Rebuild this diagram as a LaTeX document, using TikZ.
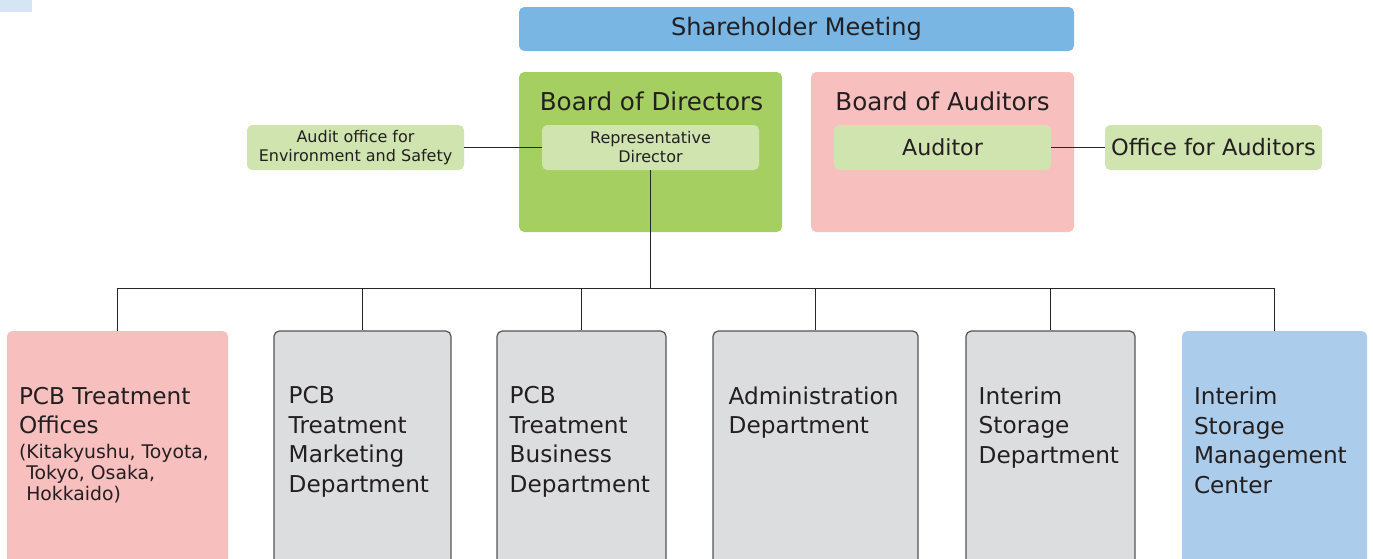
\documentclass[tikz,border=0pt]{standalone}
\usepackage{fontspec}
\setmainfont{DejaVu Sans}
\usetikzlibrary{fit}
\definecolor{ink}{HTML}{231F20}
\definecolor{meetblue}{HTML}{7AB6E4}
\definecolor{boardgreen}{HTML}{A6CF62}
\definecolor{palegreen}{HTML}{D0E4B0}
\definecolor{auditpink}{HTML}{F8BFBF}
\definecolor{deptgrey}{HTML}{DCDDDF}
\definecolor{edgegrey}{HTML}{555555}
\definecolor{centreblue}{HTML}{ABCCEA}
\definecolor{cornerblue}{HTML}{D5E5F5}

\begin{document}
\begin{tikzpicture}[x=0.02cm, y=-0.02cm,
  panel/.style={fit={#1}, inner sep=0pt, rounded corners=3pt},
  greybox/.style={panel={#1}, fill=deptgrey, draw=edgegrey, line width=0.7pt},
  big/.style={font=\fontsize{14}{16}\selectfont, text=ink},
  small/.style={font=\fontsize{9.1}{10.8}\selectfont, align=center, text=ink},
  dept/.style={font=\fontsize{13.2}{16.8}\selectfont, align=left, anchor=north west, inner sep=0pt, text=ink},
  link/.style={line width=0.6pt, draw=black!85}]
\useasboundingbox (0,0) rectangle (1373,558);
\fill[cornerblue] (0,0) rectangle (32,12);

\node (meet) [panel={(519,7) (1074,51)}, fill=meetblue] {};
\node (meet-t) at (meet.center) [big, font=\fontsize{13.7}{16}\selectfont] {Shareholder Meeting};

\node (bod) [panel={(519,72) (782,232)}, fill=boardgreen] {};
\node (bod-t) at ([shift={(1,29.5)}]bod.north) [big] {Board of Directors};
\node (rep) [panel={(542,125) (759,170)}, fill=palegreen] {};
\node (rep-t) at (rep.center) [small] {Representative\\Director};
\node (envaud) [panel={(247,125) (464,170)}, fill=palegreen] {};
\node (envaud-t) at (envaud.center) [small] {Audit office for\\Environment and Safety};

\node (boa) [panel={(811,72) (1074,232)}, fill=auditpink] {};
\node (boa-t) at ([shift={(0,29.5)}]boa.north) [big] {Board of Auditors};
\node (aud) [panel={(834,125) (1051,170)}, fill=palegreen] {};
\node (aud-t) at (aud.center) [big, font=\fontsize{12.6}{15}\selectfont] {Auditor};
\node (offaud) [panel={(1105,125) (1322,170)}, fill=palegreen] {};
\node (offaud-t) at (offaud.center) [big, font=\fontsize{12.8}{15}\selectfont] {Office for Auditors};

\draw [link] (envaud.east) -- (rep.west);
\draw [link] (aud.east) -- (offaud.west);

\node (pcbo) [panel={(7,331) (228,570)}, fill=auditpink] {};
\node (mkt) [greybox={(274,331) (451,570)}] {};
\node (biz) [greybox={(497,331) (666,570)}] {};
\node (adm) [greybox={(713,331) (918,570)}] {};
\node (isd) [greybox={(966,331) (1135,570)}] {};
\node (ismc) [panel={(1182,331) (1367,570)}, fill=centreblue] {};

\node (pcbo-t) at ([shift={(12,56)}]pcbo.north west) [dept] {PCB Treatment\\Offices};
\node (pcbo-s) at ([shift={(0,9)}]pcbo-t.south west) [dept, font=\fontsize{10.7}{12.1}\selectfont] {(Kitakyushu, Toyota,\\\hphantom{(}Tokyo, Osaka,\\\hphantom{(}Hokkaido)};
\node (mkt-t) at ([shift={(15,56)}]mkt.north west) [dept] {PCB\\Treatment\\Marketing\\Department};
\node (biz-t) at ([shift={(13,56)}]biz.north west) [dept] {PCB\\Treatment\\Business\\Department};
\node (adm-t) at ([shift={(16,56)}]adm.north west) [dept] {Administration\\Department};
\node (isd-t) at ([shift={(13,56)}]isd.north west) [dept] {Interim\\Storage\\Department};
\node (ismc-t) at ([shift={(12,56)}]ismc.north west) [dept] {Interim\\Storage\\Management\\Center};

\coordinate (bar) at (650.5,288.5);
\draw [link] (rep.south) -- (bar);
\draw [link] (pcbo.north) -- (pcbo.north |- bar) -- (ismc.north |- bar) -- (ismc.north);
\draw [link] (mkt.north) -- (mkt.north |- bar);
\draw [link] (biz.north) -- (biz.north |- bar);
\draw [link] (adm.north) -- (adm.north |- bar);
\draw [link] (isd.north) -- (isd.north |- bar);
\end{tikzpicture}
\end{document}
